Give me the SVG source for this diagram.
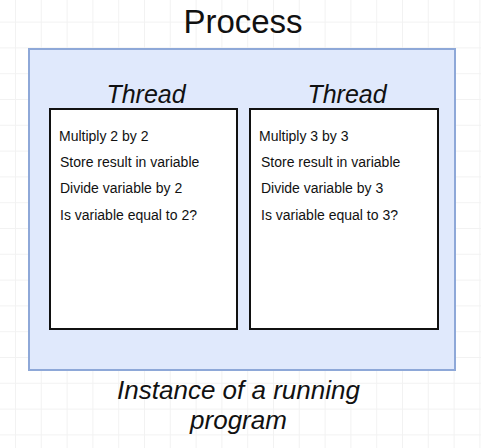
<svg xmlns="http://www.w3.org/2000/svg" width="481" height="448" viewBox="0 0 481 448">
  <defs>
    <pattern id="grid" patternUnits="userSpaceOnUse" x="15" y="21.6" width="25.8" height="25.8">
      <path d="M0.5 0 V25.8 M0 0.5 H25.8" fill="none" stroke="#f2f2f2" stroke-width="1"/>
    </pattern>
    <style>
      text { font-family: "Liberation Sans", Arial, sans-serif; fill: #111; }
      .title { font-size: 33px; text-anchor: middle; }
      .thread { font-size: 25px; font-style: italic; text-anchor: middle; }
      .item { font-size: 14px; }
      .caption { font-size: 26px; font-style: italic; text-anchor: middle; }
      .box { fill: #ffffff; stroke: #111; stroke-width: 2; }
    </style>
  </defs>
  <rect width="481" height="448" fill="#ffffff"/>
  <rect width="481" height="448" fill="url(#grid)"/>

  <g id="process">
    <text class="title" x="243" y="33">Process</text>
    <rect x="29" y="49" width="426" height="321" fill="#e0e9fc" stroke="#8ea8d8" stroke-width="2"/>
    <text class="caption" x="238.5" y="399">Instance of a running</text>
    <text class="caption" x="238.5" y="429">program</text>
  </g>

  <g id="thread1">
    <text class="thread" x="146" y="103">Thread</text>
    <rect class="box" x="50" y="109" width="187" height="220"/>
    <text class="item" x="59" y="141">Multiply 2 by 2</text>
    <text class="item" x="60" y="167">Store result in variable</text>
    <text class="item" x="60" y="193">Divide variable by 2</text>
    <text class="item" x="60" y="220">Is variable equal to 2?</text>
  </g>

  <g id="thread2">
    <text class="thread" x="347" y="103">Thread</text>
    <rect class="box" x="250" y="109" width="188" height="220"/>
    <text class="item" x="259" y="141">Multiply 3 by 3</text>
    <text class="item" x="261" y="167">Store result in variable</text>
    <text class="item" x="261" y="193">Divide variable by 3</text>
    <text class="item" x="261" y="220">Is variable equal to 3?</text>
  </g>

  <g id="connectors"></g>
</svg>
